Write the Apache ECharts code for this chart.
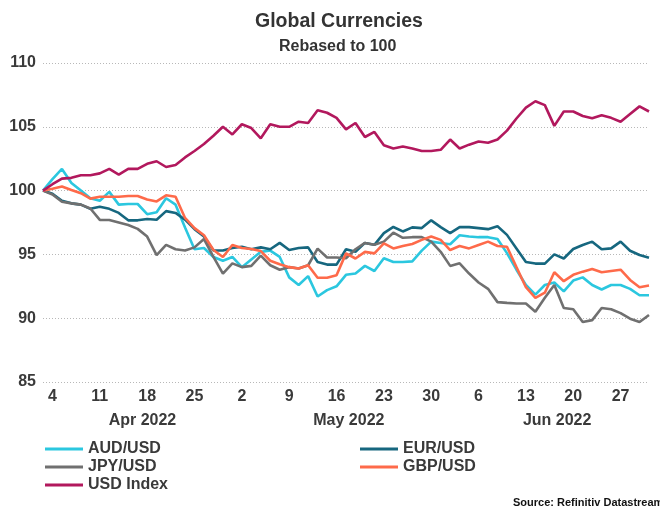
<!DOCTYPE html>
<html>
<head>
<meta charset="utf-8">
<script src="https://cdn.jsdelivr.net/npm/echarts@6/dist/echarts.min.js"></script>
<style>
  html, body { margin: 0; padding: 0; background: #fff; }
  #chart { width: 660px; height: 507px; }
</style>
</head>
<body>
<div id="chart"></div>
<script>
  // trading days, Apr 1 - Jun 30 2022
  var dates = [
    '2022-04-01',
    '2022-04-04','2022-04-05','2022-04-06','2022-04-07','2022-04-08',
    '2022-04-11','2022-04-12','2022-04-13','2022-04-14','2022-04-15',
    '2022-04-18','2022-04-19','2022-04-20','2022-04-21','2022-04-22',
    '2022-04-25','2022-04-26','2022-04-27','2022-04-28','2022-04-29',
    '2022-05-02','2022-05-03','2022-05-04','2022-05-05','2022-05-06',
    '2022-05-09','2022-05-10','2022-05-11','2022-05-12','2022-05-13',
    '2022-05-16','2022-05-17','2022-05-18','2022-05-19','2022-05-20',
    '2022-05-23','2022-05-24','2022-05-25','2022-05-26','2022-05-27',
    '2022-05-30','2022-05-31','2022-06-01','2022-06-02','2022-06-03',
    '2022-06-06','2022-06-07','2022-06-08','2022-06-09','2022-06-10',
    '2022-06-13','2022-06-14','2022-06-15','2022-06-16','2022-06-17',
    '2022-06-20','2022-06-21','2022-06-22','2022-06-23','2022-06-24',
    '2022-06-27','2022-06-28','2022-06-29','2022-06-30'
  ];

  var audUsd = [
    100, 100.9, 101.7, 100.6, 100.0, 99.4, 99.2, 99.9, 98.9, 98.95, 98.95,
    98.15, 98.3, 99.4, 98.9, 97.1, 95.4, 95.5, 94.8, 94.5, 94.8,
    94.0, 94.6, 95.2, 95.3, 94.8, 93.2, 92.6, 93.3, 91.7, 92.2,
    92.5, 93.4, 93.5, 94.1, 93.7, 94.7, 94.4, 94.4, 94.45, 95.3,
    96.0, 95.9, 95.8, 96.5, 96.4, 96.35, 96.35, 96.2, 95.1, 93.8,
    92.6, 91.85, 92.6, 92.8, 92.1, 92.95, 93.2, 92.6, 92.25, 92.6,
    92.6, 92.3, 91.8, 91.8
  ];
  var eurUsd = [
    100, 99.75, 99.2, 99.0, 98.9, 98.57, 98.73, 98.57, 98.25, 97.67, 97.67,
    97.78, 97.72, 98.39, 98.25, 97.72, 96.98, 96.4, 95.3, 95.3, 95.5,
    95.6, 95.4, 95.55, 95.4, 95.9, 95.35, 95.5, 95.55, 94.4, 94.2,
    94.2, 95.4, 95.2, 95.9, 95.75, 96.67, 97.15, 96.8, 97.12, 97.06,
    97.67, 97.14, 96.67, 97.14, 97.14, 97.06, 96.98, 97.2, 96.53, 95.47,
    94.4, 94.28, 94.28, 95.0, 94.68, 95.42, 95.74, 96.0, 95.4, 95.47,
    96.0, 95.29, 94.95, 94.74
  ];
  var jpyUsd = [
    100, 99.7, 99.13, 99.0, 98.9, 98.6, 97.7, 97.7, 97.5, 97.3, 97.0,
    96.4, 94.95, 95.75, 95.4, 95.3, 95.55, 96.2, 94.8, 93.5, 94.3,
    94.0, 94.1, 94.9, 94.15, 93.8, 94.0, 93.9, 94.15, 95.45, 94.76,
    94.76, 94.7, 95.4, 95.9, 95.75, 96.0, 96.7, 96.3, 96.35, 96.35,
    96.0, 95.2, 94.1, 94.3, 93.5, 92.8, 92.3, 91.26, 91.2, 91.15,
    91.15, 90.5, 91.6, 92.6, 90.8, 90.7, 89.7, 89.85, 90.8, 90.7,
    90.4, 89.96, 89.7, 90.25
  ];
  var gbpUsd = [
    100, 100.15, 100.32, 100.05, 99.8, 99.37, 99.52, 99.52, 99.52, 99.58, 99.58,
    99.31, 99.15, 99.63, 99.52, 97.86, 97.06, 96.5, 95.34, 94.8, 95.74,
    95.5, 95.42, 95.26, 94.5, 94.23, 94.0, 93.9, 94.15, 93.17, 93.17,
    93.36, 95.08, 94.68, 95.2, 95.08, 95.87, 95.47, 95.66, 95.82, 96.14,
    96.4, 96.14, 95.34, 95.66, 95.47, 95.74, 96.0, 95.66, 95.6, 94.0,
    92.43, 91.6, 92.0, 93.6, 92.9, 93.4, 93.65, 93.86, 93.6, 93.7,
    93.8, 93.0, 92.43, 92.56
  ];
  var usdIndex = [
    100, 100.5, 100.94, 101.0, 101.2, 101.2, 101.35, 101.7, 101.25, 101.7, 101.7,
    102.1, 102.3, 101.85, 102.0, 102.6, 103.1, 103.65, 104.3, 105.0, 104.4,
    105.2, 104.9, 104.1, 105.2, 105.0, 105.0, 105.4, 105.3, 106.3, 106.1,
    105.7, 104.8, 105.3, 104.2, 104.6, 103.55, 103.3, 103.45, 103.3, 103.1,
    103.1, 103.2, 104.0, 103.3, 103.6, 103.85, 103.75, 104.0, 104.7, 105.65,
    106.5, 107.0, 106.7, 105.07, 106.2, 106.2, 105.85, 105.67, 105.9, 105.7,
    105.4, 106.0, 106.6, 106.2
  ];

  var yTicks = [85, 90, 95, 100, 105, 110];
  var monthPos = [10.5, 32.3, 54.3];
  var monthNames = ['Apr 2022', 'May 2022', 'Jun 2022'];

  var colors = {
    'AUD/USD': '#2bc7df',
    'EUR/USD': '#16677f',
    'JPY/USD': '#707070',
    'GBP/USD': '#fe6a4a',
    'USD Index': '#b2185d'
  };

  var txt = '#3a3a3a';
  var font = 'Liberation Sans, Arial, sans-serif';

  function mkSeries(name, data, z) {
    return {
      name: name,
      type: 'line',
      data: data,
      showSymbol: false,
      symbol: 'none',
      z: z,
      lineStyle: { width: 2.6, color: colors[name] },
      itemStyle: { color: colors[name] },
      animation: false
    };
  }

  var chart = echarts.init(document.getElementById('chart'));
  chart.setOption({
    animation: false,
    textStyle: { fontFamily: font },
    title: [
      {
        text: 'Global Currencies',
        left: 250, top: 7,
        textStyle: { fontSize: 19.5, fontWeight: 'bold', color: '#333', fontFamily: font }
      },
      {
        text: 'Rebased to 100',
        left: 274, top: 34,
        textStyle: { fontSize: 16, fontWeight: 'bold', color: '#333', fontFamily: font }
      },
      {
        text: 'Source: Refinitiv Datastream',
        left: 508, top: 492,
        textStyle: { fontSize: 11, fontWeight: 'bold', color: '#111', fontFamily: font }
      }
    ],
    legend: [
      {
        data: ['AUD/USD', 'JPY/USD', 'USD Index'],
        orient: 'vertical',
        left: 40, top: 436,
        itemGap: 2,
        itemWidth: 38, itemHeight: 3,
        icon: 'rect',
        textStyle: { fontSize: 16, fontWeight: 'bold', color: txt, fontFamily: font }
      },
      {
        data: ['EUR/USD', 'GBP/USD'],
        orient: 'vertical',
        left: 355, top: 436,
        itemGap: 2,
        itemWidth: 38, itemHeight: 3,
        icon: 'rect',
        textStyle: { fontSize: 16, fontWeight: 'bold', color: txt, fontFamily: font }
      }
    ],
    grid: { left: 43, right: 11, top: 63, bottom: 125, containLabel: false },
    xAxis: [
      {
        type: 'category',
        data: dates,
        boundaryGap: false,
        axisLine: { show: false },
        axisTick: { show: false },
        splitLine: { show: false },
        axisLabel: {
          interval: function (idx, val) { return new Date(val + 'T00:00:00Z').getUTCDay() === 1; },
          formatter: function (val) { return String(parseInt(val.slice(8), 10)); },
          fontSize: 16, fontWeight: 'bold', color: txt, margin: 7
        }
      },
      {
        type: 'value',
        min: 0, max: dates.length - 1,
        position: 'bottom',
        axisLine: { show: false },
        axisTick: { show: false },
        splitLine: { show: false },
        axisLabel: {
          customValues: monthPos,
          formatter: function (v) {
            var k = monthPos.indexOf(v);
            return k >= 0 ? monthNames[k] : '';
          },
          fontSize: 16, fontWeight: 'bold', color: txt, margin: 31
        }
      }
    ],
    yAxis: {
      type: 'value',
      min: 85, max: 110, interval: 5,
      axisLine: { show: false },
      axisTick: { show: false },
      axisLabel: {
        fontSize: 16, fontWeight: 'bold', color: txt, margin: 7,
        formatter: function (v) { return yTicks.indexOf(v) >= 0 ? String(v) : ''; }
      },
      splitLine: { lineStyle: { color: '#b8b8b8', type: [1, 2], width: 1 } }
    },
    series: [
      mkSeries('AUD/USD', audUsd, 2),
      mkSeries('EUR/USD', eurUsd, 3),
      mkSeries('JPY/USD', jpyUsd, 4),
      mkSeries('GBP/USD', gbpUsd, 5),
      mkSeries('USD Index', usdIndex, 6)
    ]
  });
</script>
</body>
</html>
